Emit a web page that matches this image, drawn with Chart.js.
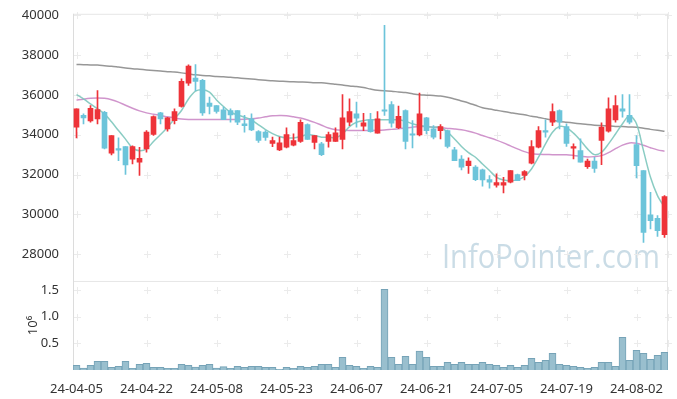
<!DOCTYPE html>
<html>
<head>
<meta charset="utf-8">
<script src="https://cdn.jsdelivr.net/npm/chart.js@4.4.1/dist/chart.umd.min.js"></script>
<style>
  html, body { margin: 0; padding: 0; background: #fff; }
  #wrap { width: 677px; height: 399px; }
</style>
</head>
<body>
<div id="wrap"><canvas id="grafica" width="677" height="399"></canvas></div>
<script>
// Fechas (días hábiles)
const fechas = [
  '24-04-05','24-04-08','24-04-09','24-04-11','24-04-12','24-04-15','24-04-16','24-04-17','24-04-18','24-04-19',
  '24-04-22','24-04-23','24-04-24','24-04-25','24-04-26','24-04-29','24-04-30','24-05-02','24-05-03','24-05-07',
  '24-05-08','24-05-09','24-05-10','24-05-13','24-05-14','24-05-16','24-05-17','24-05-20','24-05-21','24-05-22',
  '24-05-23','24-05-24','24-05-27','24-05-28','24-05-29','24-05-30','24-05-31','24-06-03','24-06-04','24-06-05',
  '24-06-07','24-06-10','24-06-11','24-06-12','24-06-13','24-06-14','24-06-17','24-06-18','24-06-19','24-06-20',
  '24-06-21','24-06-24','24-06-25','24-06-26','24-06-27','24-06-28','24-07-01','24-07-02','24-07-03','24-07-04',
  '24-07-05','24-07-08','24-07-09','24-07-10','24-07-11','24-07-12','24-07-15','24-07-16','24-07-17','24-07-18',
  '24-07-19','24-07-22','24-07-23','24-07-24','24-07-25','24-07-26','24-07-29','24-07-30','24-07-31','24-08-01',
  '24-08-02','24-08-05','24-08-06','24-08-07','24-08-08'
];

const aperturas = [
  34380,34970,34700,34800,35130,33070,33300,33400,32770,32620,
  33290,34010,35100,34290,34710,35430,36590,36850,36730,35590,
  35470,35250,35220,35220,34550,34800,34160,34130,33570,33240,
  33370,33470,33670,34510,33620,33540,33670,33670,33770,34630,
  35050,34430,34750,34080,35250,35520,34350,35220,34040,33990,
  34850,34300,34210,34210,33240,32780,32450,32370,32230,31740,
  31460,31460,31610,32000,31950,32570,33370,34210,34630,35220,
  34410,33320,33200,32400,32670,33710,34180,34750,35300,34970,
  33510,32200,29980,29800,28980
];
const maximos = [
  35300,35050,35470,36220,35180,33960,33840,33400,33440,33370,
  34210,34950,35130,34880,35300,36810,37520,37530,36780,35890,
  35470,35390,35300,35220,34970,35050,34210,34210,33880,33880,
  34350,34040,34750,34550,33960,33620,34130,34350,36020,35800,
  35640,35080,35080,35170,39500,35670,35440,35250,34710,36090,
  34880,34460,34510,34240,33370,32950,32840,32450,32280,31950,
  32030,31860,32200,32020,32200,33710,34410,34750,35550,35250,
  34550,33540,33790,32780,32870,34600,35860,35970,36020,36020,
  33960,32200,31110,29930,30940
];
const minimos = [
  33840,34550,34630,34550,33290,32990,32700,32000,32530,31950,
  33120,33960,34550,34180,34550,35380,36480,36220,34970,35050,
  35080,34760,34630,34510,34130,34210,33620,33710,33400,33200,
  33340,33440,33610,33760,33290,32950,33370,33670,33290,34460,
  34380,34210,34130,34080,34970,34380,34300,33290,33340,33940,
  34040,33790,33790,33340,32700,32230,32060,31690,31410,31320,
  31360,31070,31580,31690,31730,32530,33340,33880,34460,34290,
  33410,32780,32620,32310,32110,32500,34130,34630,34880,34550,
  31830,28590,29260,28890,28840
];
const cierres = [
  35300,34850,35330,35270,33320,33960,33220,32480,33400,32820,
  34130,34910,34800,34850,35170,36690,37450,36680,35100,35420,
  35170,34760,35000,34630,34450,34240,33710,33870,33710,33590,
  34010,33710,34630,33760,33960,33000,34010,34090,34850,35170,
  34830,34600,34160,34800,35180,34580,34920,33670,33980,35050,
  34210,33880,34410,33410,32700,32370,32670,31740,31730,31610,
  31590,31590,32200,31690,32150,33410,34210,34130,35170,34630,
  33570,33410,32620,32670,32310,34380,35300,35470,35180,34630,
  32450,29090,29680,29180,30890
];

// Medias móviles
const mediaCorta = [
  36020,35800,35550,35300,35050,34650,34210,33780,33340,33200,
  33290,33660,34010,34380,34800,35220,35800,36190,36260,36140,
  35750,35420,35130,35000,34880,34750,34500,34260,34060,33910,
  33840,33840,33910,34010,33960,33880,33880,33840,34040,34410,
  34630,34710,34750,34760,34750,34750,34750,34680,34550,34460,
  34410,34380,34380,34130,33790,33410,33100,32870,32530,32200,
  31860,31730,31690,31730,31900,32280,32870,33540,34130,34410,
  34350,34080,33710,33290,33000,33120,33540,34040,34550,34970,
  34550,33200,31860,30940,30350
];
const mediaMedia = [
  35740,35790,35830,35850,35830,35760,35640,35480,35330,35200,
  35100,35030,34970,34900,34840,34790,34770,34770,34770,34770,
  34770,34770,34770,34770,34780,34800,34840,34900,34950,34970,
  34960,34900,34840,34740,34620,34480,34340,34250,34220,34210,
  34210,34210,34210,34220,34240,34270,34300,34340,34380,34410,
  34410,34380,34350,34320,34290,34250,34180,34080,33960,33850,
  33730,33590,33440,33290,33150,33050,33020,33010,33000,32990,
  32990,32960,32920,32880,32900,32950,33100,33300,33480,33590,
  33570,33470,33350,33240,33170
];
const mediaLarga = [
  37530,37520,37510,37500,37470,37440,37400,37360,37320,37290,
  37260,37230,37200,37170,37150,37110,37060,37010,36980,36960,
  36930,36910,36890,36860,36830,36800,36770,36740,36710,36690,
  36680,36660,36650,36640,36620,36610,36580,36540,36500,36450,
  36420,36370,36300,36240,36210,36190,36150,36120,36060,36010,
  35990,35970,35950,35890,35800,35700,35600,35480,35360,35290,
  35230,35170,35110,35050,35000,34930,34870,34800,34730,34670,
  34630,34590,34550,34510,34480,34460,34440,34420,34410,34390,
  34380,34330,34270,34220,34180
];

// Volumen (acciones)
const volumenes = [
  88000,38000,88000,163000,163000,50000,69000,163000,31000,107000,
  125000,50000,50000,31000,31000,107000,88000,56000,88000,107000,
  38000,63000,31000,69000,50000,69000,69000,50000,50000,13000,
  50000,31000,69000,50000,69000,107000,107000,50000,238000,88000,
  69000,31000,69000,50000,1516000,238000,107000,257000,107000,357000,
  238000,69000,69000,144000,107000,144000,107000,107000,144000,107000,
  88000,50000,88000,50000,88000,219000,144000,182000,313000,107000,
  88000,69000,50000,31000,50000,144000,144000,69000,614000,182000,
  370000,313000,200000,276000,332000
];

const ticksPrecio = [28000, 30000, 32000, 34000, 36000, 38000, 40000];
const ticksVolumen = [500000, 1000000, 1500000];

const ROJO = '#ee3339';
const AZUL = '#6cc4da';
const colores = cierres.map((c, i) => c >= aperturas[i] ? ROJO : AZUL);

Chart.defaults.font.family = '"Noto Sans", sans-serif';
Chart.defaults.font.size = 13;
Chart.defaults.color = '#333';

// Cruces de la rejilla, bordes y marca de agua
const decoracion = {
  id: 'decoracion',
  beforeDatasetsDraw(chart) {
    const {ctx, chartArea} = chart;
    const x = chart.scales.x, y = chart.scales.y, yv = chart.scales.yVol;
    ctx.save();
    // marca de agua
    ctx.font = '32px "Open Sans", sans-serif';
    ctx.fillStyle = 'rgba(150,185,205,0.5)';
    ctx.textBaseline = 'alphabetic';
    const txt = 'InfoPointer.com';
    const w = ctx.measureText(txt).width;
    ctx.translate(442, 268);
    ctx.scale(218 / w, 1);
    ctx.fillText(txt, 0, 0);
    ctx.restore();

    ctx.save();
    ctx.strokeStyle = '#ebebeb';
    ctx.lineWidth = 1;
    const columnas = [];
    fechas.forEach((f, i) => { if (i % 10 === 0) columnas.push(x.getPixelForValue(i)); });
    columnas.push(chartArea.right);
    const cruz = (px, py) => {
      ctx.beginPath();
      ctx.moveTo(Math.round(px) - 3, Math.round(py) + 0.5);
      ctx.lineTo(Math.round(px) + 4, Math.round(py) + 0.5);
      ctx.moveTo(Math.round(px) + 0.5, Math.round(py) - 3);
      ctx.lineTo(Math.round(px) + 0.5, Math.round(py) + 4);
      ctx.stroke();
    };
    columnas.forEach(px => {
      ticksPrecio.forEach(v => cruz(px, y.getPixelForValue(v)));
      ticksVolumen.forEach(v => cruz(px, yv.getPixelForValue(v)));
    });
    // bordes
    ctx.strokeStyle = '#e6e6e6';
    ctx.beginPath();
    ctx.moveTo(chartArea.left, y.top + 0.5);
    ctx.lineTo(chartArea.right, y.top + 0.5);
    ctx.moveTo(chartArea.left, yv.top + 0.5);
    ctx.lineTo(chartArea.right, yv.top + 0.5);
    ctx.moveTo(chartArea.right - 0.5, y.top);
    ctx.lineTo(chartArea.right - 0.5, yv.bottom);
    ctx.stroke();
    ctx.strokeStyle = '#dcdcdc';
    ctx.beginPath();
    ctx.moveTo(chartArea.left + 0.5, y.top);
    ctx.lineTo(chartArea.left + 0.5, yv.bottom);
    ctx.stroke();
    ctx.restore();
  }
};

const ctx = document.getElementById('grafica').getContext('2d');
new Chart(ctx, {
  data: {
    labels: fechas,
    datasets: [
      {
        type: 'bar', label: 'cuerpo', yAxisID: 'y', order: 1, grouped: false,
        data: aperturas.map((o, i) => [o, cierres[i]]),
        backgroundColor: colores, barThickness: 5, minBarLength: 1
      },
      {
        type: 'bar', label: 'mecha', yAxisID: 'y', order: 2, grouped: false,
        data: minimos.map((l, i) => [l, maximos[i]]),
        backgroundColor: colores, barThickness: 1
      },
      {
        type: 'line', label: 'MA corta', yAxisID: 'y', order: 3, data: mediaCorta,
        borderColor: 'rgba(125,198,188,0.9)', borderWidth: 1.5, pointRadius: 0, tension: 0.3
      },
      {
        type: 'line', label: 'MA media', yAxisID: 'y', order: 4, data: mediaMedia,
        borderColor: 'rgba(200,130,195,0.85)', borderWidth: 1.5, pointRadius: 0, tension: 0.3
      },
      {
        type: 'line', label: 'MA larga', yAxisID: 'y', order: 5, data: mediaLarga,
        borderColor: 'rgba(140,140,140,0.9)', borderWidth: 1.5, pointRadius: 0, tension: 0.3
      },
      {
        type: 'bar', label: 'volumen', yAxisID: 'yVol', order: 6, grouped: false,
        data: volumenes, barPercentage: 1, categoryPercentage: 1,
        backgroundColor: '#99bfce', borderColor: '#76a3b7', borderWidth: 1
      }
    ]
  },
  options: {
    responsive: false,
    animation: false,
    layout: { padding: { left: 0, right: 9, top: 13, bottom: 0 } },
    plugins: { legend: { display: false }, tooltip: { enabled: false } },
    scales: {
      x: {
        type: 'category', offset: true,
        grid: { display: false }, border: { display: false },
        ticks: {
          autoSkip: false, maxRotation: 0, minRotation: 0, padding: 3,
          callback: (v, i) => i % 10 === 0 ? fechas[i] : null
        },
        afterFit: s => { s.height = 29; }
      },
      yVol: {
        type: 'linear', position: 'left', stack: 'panel', stackWeight: 1,
        min: 0, max: 1673000,
        grid: { display: false }, border: { display: false },
        title: { display: true, text: '10⁶', padding: { top: 25, bottom: 0 }, font: { size: 13 } },
        ticks: { padding: 6, callback: v => (v / 1e6).toFixed(1) },
        afterBuildTicks: s => { s.ticks = ticksVolumen.map(v => ({ value: v })); },
        afterFit: s => { s.width = 73; }
      },
      y: {
        type: 'linear', position: 'left', stack: 'panel', stackWeight: 3,
        min: 26650, max: 40080,
        grid: { display: false }, border: { display: false },
        ticks: { padding: 6, callback: v => String(v) },
        afterBuildTicks: s => { s.ticks = ticksPrecio.map(v => ({ value: v })); },
        afterFit: s => { s.width = 73; }
      }
    }
  },
  plugins: [decoracion]
});
</script>
</body>
</html>
